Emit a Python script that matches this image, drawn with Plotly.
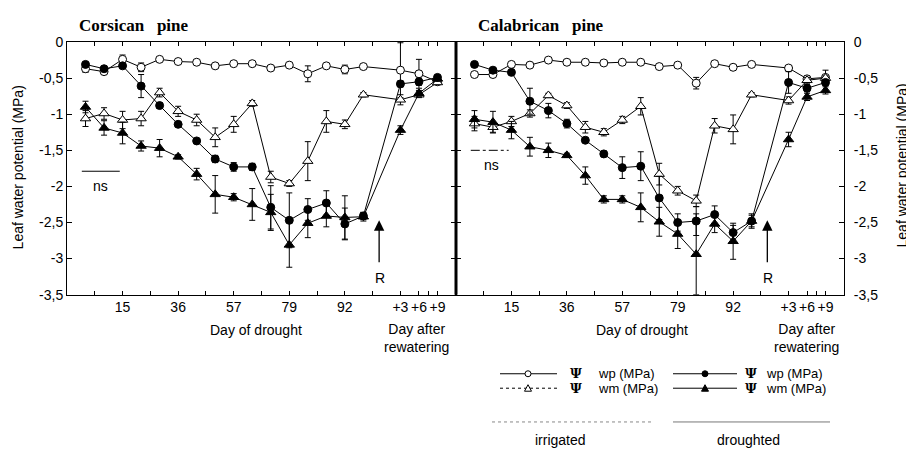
import plotly.graph_objects as go

# ---------------- data ----------------
# x sample labels (None marks the gap between drought and rewatering)
day_labels = ["", "", "15", "", "", "36", "", "", "57", "", "", "79", "", "", "92", "",
              None, "+3", "+6", "+9"]

y_ticks = [0, -0.5, -1, -1.5, -2, -2.5, -3, -3.5]
y_ticktext = ["0", "-0,5", "-1", "-1,5", "-2", "-2,5", "-3", "-3,5"]

# Corsican pine
cor_irr_wp = [-0.37, -0.41, -0.24, -0.35, -0.24, -0.27, -0.28, -0.33, -0.30, -0.30,
              -0.36, -0.32, -0.44, -0.33, -0.38, -0.34, -0.39, -0.44, -0.55]
cor_irr_wp_err = [0.05, 0.04, 0.06, 0.06, 0.03, 0.02, 0.03, 0.02, 0.02, 0.02,
                  0.02, 0.02, 0.11, 0.02, 0.06, 0.02, 0.38, 0.20, 0.04]
cor_irr_wm = [-1.06, -0.99, -1.08, -1.06, -0.70, -0.96, -1.08, -1.32, -1.14, -0.85,
              -1.87, -1.96, -1.65, -1.10, -1.14, -0.73, -0.80, -0.73, -0.56]
cor_irr_wm_err = [0.11, 0.08, 0.12, 0.10, 0.06, 0.07, 0.08, 0.13, 0.11, 0.04,
                  0.08, 0.04, 0.27, 0.15, 0.06, 0.03, 0.07, 0.04, 0.03]
cor_dro_wp = [-0.31, -0.37, -0.33, -0.61, -0.88, -1.14, -1.37, -1.62, -1.73, -1.73,
              -2.29, -2.47, -2.32, -2.23, -2.52, -2.41, -0.58, -0.55, -0.49]
cor_dro_wp_err = [0.03, 0.03, 0.03, 0.16, 0.04, 0.03, 0.02, 0.05, 0.06, 0.05,
                  0.30, 0.38, 0.15, 0.17, 0.22, 0.05, 0.04, 0.05, 0.03]
cor_dro_wm = [-0.90, -1.19, -1.26, -1.44, -1.47, -1.59, -1.83, -2.11, -2.15, -2.25,
              -2.36, -2.81, -2.51, -2.41, -2.43, -2.42, -1.22, -0.71, -0.51]
cor_dro_wm_err = [0.08, 0.10, 0.15, 0.07, 0.12, 0.03, 0.08, 0.26, 0.05, 0.22,
                  0.25, 0.31, 0.20, 0.15, 0.30, 0.06, 0.06, 0.04, 0.03]

# Calabrican pine
cal_irr_wp = [-0.45, -0.45, -0.31, -0.32, -0.25, -0.28, -0.28, -0.29, -0.28, -0.28,
              -0.34, -0.32, -0.57, -0.30, -0.35, -0.31, -0.36, -0.51, -0.49]
cal_irr_wp_err = [0.03, 0.03, 0.02, 0.02, 0.02, 0.02, 0.02, 0.02, 0.02, 0.02,
                  0.02, 0.02, 0.08, 0.02, 0.03, 0.02, 0.03, 0.04, 0.10]
cal_irr_wm = [-1.13, -1.18, -1.10, -0.99, -0.74, -0.88, -1.18, -1.25, -1.08, -0.89,
              -1.83, -2.06, -2.20, -1.16, -1.21, -0.73, -0.81, -0.53, -0.50]
cal_irr_wm_err = [0.10, 0.07, 0.07, 0.05, 0.03, 0.04, 0.08, 0.05, 0.05, 0.12,
                  0.15, 0.06, 0.08, 0.10, 0.20, 0.03, 0.05, 0.04, 0.03]
cal_dro_wp = [-0.31, -0.39, -0.42, -0.82, -0.95, -1.13, -1.36, -1.55, -1.74, -1.72,
              -2.16, -2.50, -2.48, -2.39, -2.64, -2.48, -0.56, -0.64, -0.56]
cal_dro_wp_err = [0.03, 0.03, 0.03, 0.18, 0.10, 0.06, 0.03, 0.04, 0.15, 0.20,
                  0.30, 0.12, 0.20, 0.12, 0.10, 0.08, 0.15, 0.05, 0.04]
cal_dro_wm = [-1.07, -1.11, -1.22, -1.45, -1.50, -1.57, -1.85, -2.18, -2.18, -2.29,
              -2.49, -2.66, -2.94, -2.52, -2.76, -2.48, -1.35, -0.76, -0.67]
cal_dro_wm_err = [0.12, 0.15, 0.12, 0.13, 0.10, 0.03, 0.12, 0.05, 0.05, 0.20,
                  0.20, 0.20, 0.56, 0.12, 0.25, 0.10, 0.10, 0.05, 0.05]

# ---------------- figure ----------------
WIN_W, WIN_H = 914, 456
BODY = 8  # default page margin of the html body
W, H = WIN_W - BODY, WIN_H - BODY

x_pos = [i for i, lab in enumerate(day_labels) if lab is not None]
tick_vals = [i for i, lab in enumerate(day_labels) if lab]
tick_text = [lab for lab in day_labels if lab]


def px(x):
    return (x - BODY) / W


def py(y):
    return 1 - (y - BODY) / H


FONT = "Liberation Sans, Arial, sans-serif"
SERIF = "Liberation Serif, Times New Roman, serif"

fig = go.Figure()

series_style = [
    ("circle", "white", 8),
    ("triangle-up", "white", 9),
    ("circle", "black", 8),
    ("triangle-up", "black", 9),
]

panels = [
    ("x", "y", [(cor_irr_wp, cor_irr_wp_err), (cor_irr_wm, cor_irr_wm_err),
                (cor_dro_wp, cor_dro_wp_err), (cor_dro_wm, cor_dro_wm_err)]),
    ("x2", "y2", [(cal_irr_wp, cal_irr_wp_err), (cal_irr_wm, cal_irr_wm_err),
                  (cal_dro_wp, cal_dro_wp_err), (cal_dro_wm, cal_dro_wm_err)]),
]

for xa, ya, sers in panels:
    for (vals, errs), (sym, fill, size) in zip(sers, series_style):
        fig.add_trace(go.Scatter(
            x=x_pos, y=vals, xaxis=xa, yaxis=ya, mode="lines+markers",
            line=dict(color="black", width=1),
            marker=dict(symbol=sym, size=size, color=fill,
                        line=dict(color="black", width=1)),
            error_y=dict(type="data", array=errs, visible=True, color="black",
                         thickness=1, width=3),
            showlegend=False, cliponaxis=False,
        ))

left_dom = [px(67), px(456)]
right_dom = [px(456), px(844)]
ydom = [py(297), py(35)]

xcommon = dict(range=[-1, 20], tickmode="array", tickvals=tick_vals, ticktext=tick_text,
               ticks="inside", ticklen=4, tickcolor="black", showline=True,
               linecolor="black", linewidth=1, mirror="ticks", showgrid=False,
               zeroline=False, tickfont=dict(family=FONT, size=14, color="black"),
               minor=dict(tick0=-1, dtick=1.5, ticks="inside", ticklen=4,
                          tickcolor="black", showgrid=False))
ycommon = dict(range=[-3.5, 0], tickmode="array", tickvals=y_ticks, ticktext=y_ticktext,
               ticks="inside", ticklen=5, tickcolor="black", showline=True,
               linecolor="black", linewidth=1, mirror="ticks", showgrid=False,
               zeroline=False, tickfont=dict(family=FONT, size=14, color="black"),
               domain=ydom)

fig.update_layout(
    width=W, height=H, margin=dict(l=0, r=0, t=0, b=0),
    paper_bgcolor="white", plot_bgcolor="white",
    xaxis=dict(domain=left_dom, anchor="y", **xcommon),
    xaxis2=dict(domain=right_dom, anchor="y2", **xcommon),
    yaxis=dict(anchor="x", side="left", **ycommon),
    yaxis2=dict(anchor="x2", side="right", ticklabelstandoff=6, **ycommon),
)

shapes = []
annotations = []


def text(t, x, y, size=14, family=FONT, xanchor="center", angle=0, xref="paper", yref="paper"):
    annotations.append(dict(text=t, x=x, y=y, xref=xref, yref=yref, xanchor=xanchor,
                            yanchor="middle", textangle=angle, showarrow=False,
                            font=dict(family=family, size=size, color="black")))


# thick separator between panels
shapes.append(dict(type="line", xref="paper", yref="paper", x0=px(456), x1=px(456),
                   y0=ydom[0], y1=ydom[1], line=dict(color="black", width=3)))

# panel titles
text("<b>Corsican&nbsp;&nbsp; pine</b>", px(77), py(18), size=17, family=SERIF, xanchor="left")
text("<b>Calabrican&nbsp;&nbsp; pine</b>", px(476), py(18), size=17, family=SERIF, xanchor="left")

# y titles
text("Leaf water potential (MPa)", px(18), py(165), angle=-90)
text("Leaf water potential (MPa)", px(902), py(163), angle=-90)

# x titles
for cx_d, cx_r in [(256, 416), (642, 806)]:
    text("Day of drought", px(cx_d), py(334))
    text("Day after<br>rewatering", px(cx_r), py(342))

# ns markers and R arrows (data coordinates)
shapes.append(dict(type="line", xref="x", yref="y", x0=-0.2, x1=1.85, y0=-1.79, y1=-1.79,
                   line=dict(color="black", width=1)))
text("ns", 0.8, -2.0, xref="x", yref="y")
shapes.append(dict(type="line", xref="x2", yref="y2", x0=-0.2, x1=1.85, y0=-1.5, y1=-1.5,
                   line=dict(color="black", width=1, dash="dashdot")))
text("ns", 0.9, -1.71, xref="x2", yref="y2")
for xr, yr in [("x", "y"), ("x2", "y2")]:
    annotations.append(dict(text="", x=15.85, y=-2.47, ax=15.85, ay=-3.07, xref=xr, yref=yr,
                            axref=xr, ayref=yr, showarrow=True, arrowhead=2, arrowsize=1.6,
                            arrowwidth=1.3, arrowcolor="black"))
    text("R", 15.9, -3.27, xref=xr, yref=yr)

# ---------------- manual legend ----------------
leg_rows = [379, 394]
cols = [
    dict(x0=500, x1=557, xm=528, psi=576, txt=596,
         items=[("wp (MPa)", "circle", "white", "solid"), ("wm (MPa)", "tri", "white", "dot")]),
    dict(x0=673, x1=737, xm=705, psi=751, txt=764,
         items=[("wp (MPa)", "circle", "black", "solid"), ("wm (MPa)", "tri", "black", "solid")]),
]
for c in cols:
    for yrow, (lab, sym, fill, dash) in zip(leg_rows, c["items"]):
        shapes.append(dict(type="line", xref="paper", yref="paper", x0=px(c["x0"]),
                           x1=px(c["x1"]), y0=py(yrow), y1=py(yrow),
                           line=dict(color="black", width=1, dash=dash)))
        if sym == "circle":
            shapes.append(dict(type="circle", xref="paper", yref="paper",
                               xsizemode="pixel", ysizemode="pixel",
                               xanchor=px(c["xm"]), yanchor=py(yrow),
                               x0=-3, x1=3, y0=-3, y1=3, fillcolor=fill,
                               line=dict(color="black", width=1)))
        else:
            shapes.append(dict(type="path", xref="paper", yref="paper",
                               xsizemode="pixel", ysizemode="pixel",
                               xanchor=px(c["xm"]), yanchor=py(yrow),
                               path="M-3.5,-3 L3.5,-3 L0,3.5 Z", fillcolor=fill,
                               line=dict(color="black", width=1)))
        text("<b>Ψ</b>", px(c["psi"]), py(yrow), size=13, family="DejaVu Serif, serif")
        text(lab, px(c["txt"]), py(yrow), size=13, xanchor="left")

shapes.append(dict(type="line", xref="paper", yref="paper", x0=px(492), x1=px(653),
                   y0=py(429), y1=py(429), line=dict(color="#888", width=1, dash="dot")))
shapes.append(dict(type="line", xref="paper", yref="paper", x0=px(673), x1=px(830),
                   y0=py(429), y1=py(429), line=dict(color="#777", width=1)))
text("irrigated", px(560), py(448))
text("droughted", px(748), py(448))

fig.update_layout(shapes=shapes, annotations=annotations)
fig.write_html("out.html")
